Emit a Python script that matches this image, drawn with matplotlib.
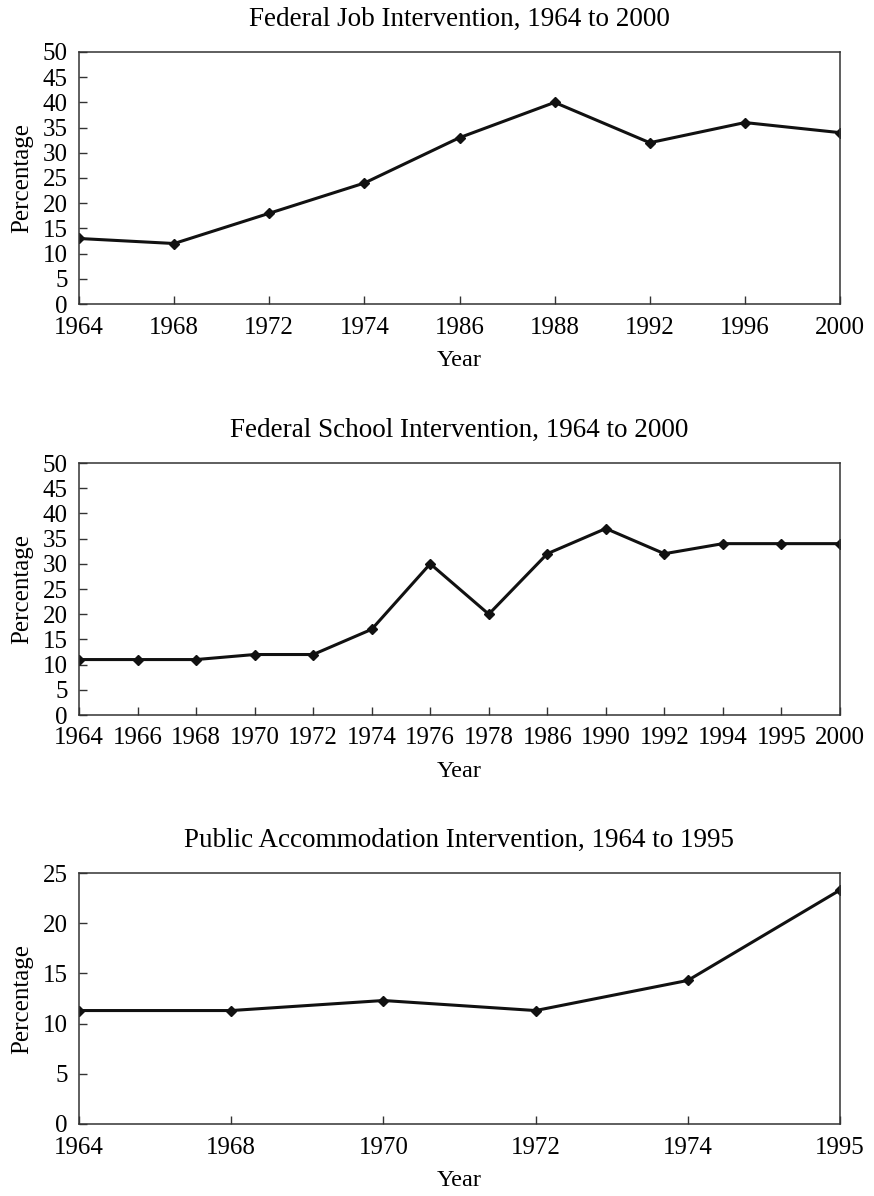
import matplotlib
matplotlib.use("Agg")
import matplotlib.pyplot as plt

job_years = ["1964", "1968", "1972", "1974", "1986", "1988", "1992", "1996", "2000"]
job_values = [13, 12, 18, 24, 33, 40, 32, 36, 34]

school_years = ["1964", "1966", "1968", "1970", "1972", "1974", "1976", "1978",
                "1986", "1990", "1992", "1994", "1995", "2000"]
school_values = [11, 11, 11, 12, 12, 17, 30, 20, 32, 37, 32, 34, 34, 34]

pub_years = ["1964", "1968", "1970", "1972", "1974", "1995"]
pub_values = [11.3, 11.3, 12.3, 11.3, 14.3, 23.3]

titles = ["Federal Job Intervention, 1964 to 2000",
          "Federal School Intervention, 1964 to 2000",
          "Public Accommodation Intervention, 1964 to 1995"]

plt.rcParams['font.family'] = ['Liberation Serif', 'DejaVu Serif']

fig = plt.figure(figsize=(8.74, 11.96), dpi=100)
W, H = 874, 1196
left, right = 79, 840
panels = [
    (job_years, job_values, titles[0], 52, 304, 50, 5),
    (school_years, school_values, titles[1], 463, 715, 50, 5),
    (pub_years, pub_values, titles[2], 873, 1124, 25, 5),
]
for years, vals, title, top, bot, ymax, ystep in panels:
    ax = fig.add_axes([left / W, 1 - bot / H, (right - left) / W, (bot - top) / H])
    x = list(range(len(years)))
    ax.plot(x, vals, color='#111111', linewidth=2.2, marker='D', markersize=5.5,
            markerfacecolor='#111111', markeredgecolor='#111111')
    ax.set_xlim(0, len(years) - 1)
    ax.set_ylim(0, ymax)
    ax.set_xticks(x)
    ax.set_xticklabels(years)
    ax.set_yticks(list(range(0, ymax + 1, ystep)))
    ax.tick_params(direction='in', length=6, width=1, labelsize=18, color='#333333')
    ax.tick_params(axis='x', pad=9)
    ax.tick_params(axis='y', pad=8)
    for s in ax.spines.values():
        s.set_linewidth(1.1)
        s.set_color('#333333')
    ax.set_title(title, fontsize=19.5, pad=19)
    ax.set_xlabel("Year", fontsize=17.5, labelpad=8)
    ax.set_ylabel("Percentage", fontsize=18)
    ax.yaxis.set_label_coords(-0.060, 0.5)

fig.savefig("out.png", dpi=100)
